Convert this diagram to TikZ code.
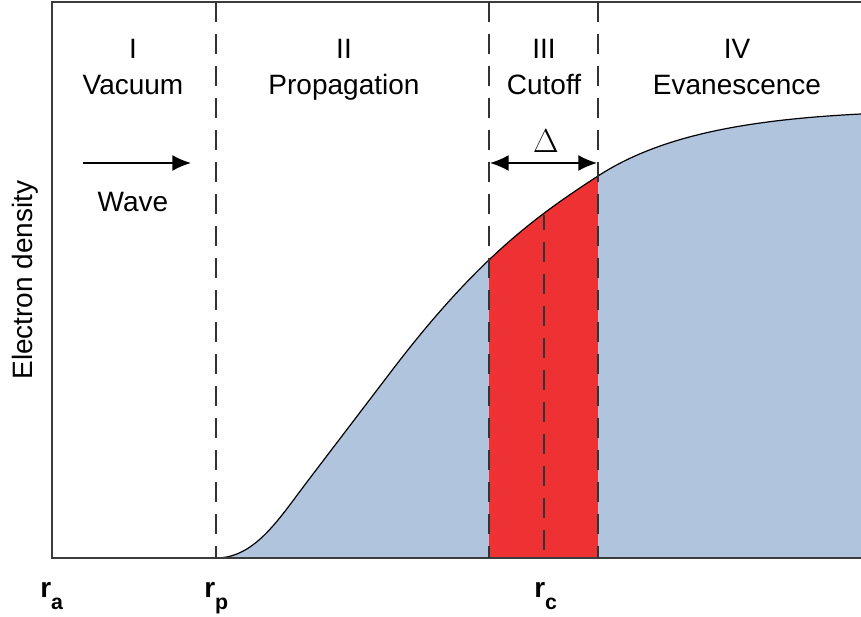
\documentclass[tikz,border=0pt]{standalone}
\usepackage{fontspec}
\setmainfont{Liberation Sans}
\usetikzlibrary{arrows.meta}
\definecolor{fillblue}{RGB}{176,196,222}
\definecolor{cutred}{RGB}{238,50,52}
\definecolor{framegray}{RGB}{60,60,60}
\tikzset{
  lbl/.style={anchor=base,inner sep=0pt,font=\fontsize{21}{25}\selectfont},
  rlbl/.style={anchor=base west,inner sep=0pt,font=\fontsize{21}{25}\selectfont\bfseries},
  divline/.style={draw=black!80,line width=1.1pt,dash pattern=on 15pt off 9pt},
  framel/.style={draw=framegray,line width=1.2pt},
  curveline/.style={draw=black,line width=0.9pt},
  arr/.style={line width=1.3pt,-{Latex[length=14pt,width=12pt]}},
  darr/.style={line width=1.3pt,{Latex[length=14pt,width=12pt]}-{Latex[length=14pt,width=12pt]}}
}
\newcommand{\rsub}[2]{#1\raisebox{-9pt}{\fontsize{16}{18}\selectfont #2}}
\begin{document}
\begin{tikzpicture}[x=0.75pt,y=-0.75pt]
\useasboundingbox (0,0) rectangle (861,617);
\def\curvepath{(216,558) .. controls (256,558) and (280,517) .. (310,478)
  -- (390,373) .. controls (478,257) and (538,215) .. (598,176)
  .. controls (658,137) and (741,120) .. (861,114)}
% blue fill
\fill[fillblue] \curvepath -- (861,558) -- cycle;
% red cutoff band under the curve
\begin{scope}
  \clip \curvepath -- (861,558) -- cycle;
  \fill[cutred] (489,0) rectangle (598,558);
\end{scope}
% curve
\draw[curveline] \curvepath;
% frame
\coordinate (tl) at (52,2);
\coordinate (tr) at (861,2);
\coordinate (bl) at (52,558);
\coordinate (br) at (861,558);
\draw[framel] (tr) -- (tl) -- (bl) -- (br);
% dividers
\coordinate (p1t) at (216,2);   \coordinate (p1b) at (216,558);
\coordinate (p2t) at (489,2);   \coordinate (p2b) at (489,558);
\coordinate (p3t) at (544,215); \coordinate (p3b) at (544,558);
\coordinate (p4t) at (598,2);   \coordinate (p4b) at (598,558);
\draw[divline] (p1t) -- (p1b);
\draw[divline] (p2t) -- (p2b);
\draw[divline] (p4t) -- (p4b);
\draw[divline,dash phase=4pt] (p3t) -- (p3b);
% region labels
\node[lbl] (r1a) at (133,59) {I};
\node[lbl] (r1b) at (133,95) {Vacuum};
\node[lbl] (r2a) at (344,59) {II};
\node[lbl] (r2b) at (344,95) {Propagation};
\node[lbl] (r3a) at (544,59) {III};
\node[lbl] (r3b) at (544,95) {Cutoff};
\node[lbl] (r4a) at (737,59) {IV};
\node[lbl] (r4b) at (737,95) {Evanescence};
% wave arrow
\coordinate (w1) at (83,163);
\coordinate (w2) at (191,163);
\draw[arr] (w1) -- (w2);
\node[lbl] (wave) at (133,211) {Wave};
% delta arrow
\coordinate (d1) at (490,163);
\coordinate (d2) at (597,163);
\draw[darr] (d1) -- (d2);
\node[anchor=base,inner sep=0pt,font=\fontsize{24}{27}\selectfont] (delta) at (546,152) {$\Delta$};
% y label
\node[rotate=90,inner sep=0pt,font=\fontsize{21}{25}\selectfont] (ylab) at (25,280) {Electron density};
% r labels
\node[rlbl] (ra) at (40,597) {\rsub{r}{a}};
\node[rlbl] (rp) at (204,597) {\rsub{r}{p}};
\node[rlbl] (rc) at (534,597) {\rsub{r}{c}};
\end{tikzpicture}
\end{document}
